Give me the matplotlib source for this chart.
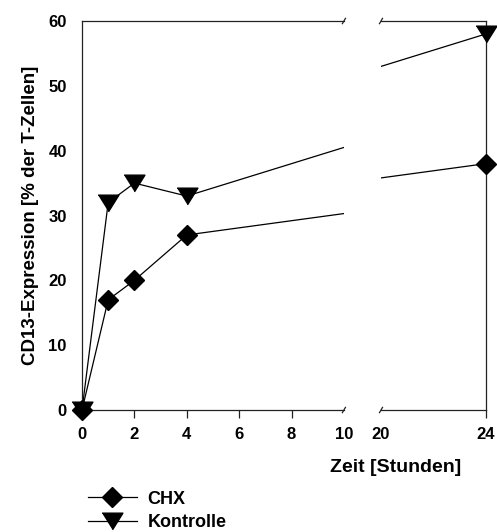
import numpy as np
import matplotlib
matplotlib.use("Agg")
import matplotlib.pyplot as plt
from matplotlib.lines import Line2D

plt.rcParams['font.family'] = ['Liberation Sans', 'DejaVu Sans']
plt.rcParams['font.weight'] = 'bold'

# Messzeitpunkte [h] und CD13-Expression [% der T-Zellen]
zeit = [0, 1, 2, 4, 24]
chx = [0, 17, 20, 27, 38]
kontrolle = [0, 32, 35, 33, 58]

links_ticks = [0, 2, 4, 6, 8, 10]
rechts_ticks = [20, 24]
y_ticks = [0, 10, 20, 30, 40, 50, 60]

# flaches Dreieck mit Spitze nach unten
dreieck = [(-1, 0.8), (1, 0.8), (0, -0.8)]
serien = [(chx, 'D', 10, 'CHX'), (kontrolle, dreieck, 15, 'Kontrolle')]

fig = plt.figure(figsize=(4.97, 5.32), dpi=100)
ax1 = fig.add_axes([0.165, 0.2293, 0.527, 0.7312])
ax2 = fig.add_axes([0.7666, 0.2293, 0.2109, 0.7312])

for ax, (x0, x1) in ((ax1, (0, 10)), (ax2, (20, 24))):
    ax.set_xlim(x0, x1)
    ax.set_ylim(0, 60)
    for ys, m, ms, lab in serien:
        ax.plot(zeit, ys, color='black', lw=0.9, clip_on=True)
        xs = [x for x in zeit if x0 <= x <= x1]
        yy = [y for x, y in zip(zeit, ys) if x0 <= x <= x1]
        ax.plot(xs, yy, ls='none', marker=m, ms=ms, color='black', clip_on=False, zorder=5)
    for s in ax.spines.values():
        s.set_linewidth(0.9)
        s.set_color('#222222')
    ax.tick_params(axis='x', direction='out', length=6, width=0.9, pad=6,
                   labelsize=12, color='#222222')

ax1.spines['right'].set_visible(False)
ax2.spines['left'].set_visible(False)
ax1.set_xticks(links_ticks)
ax1.xaxis.get_major_ticks()[-1].tick1line.set_visible(False)
ax1.set_yticks(y_ticks)
ax1.tick_params(axis='y', length=0, pad=11, labelsize=12)
ax2.set_xticks(rechts_ticks)
ax2.xaxis.get_major_ticks()[0].tick1line.set_visible(False)
ax2.set_yticks([])

# Achsenbruch-Markierungen (kleine Schrägstriche)
dy = 0.0068
kw = dict(color='#222222', lw=0.9, clip_on=False)
for ax, xpos, dx in ((ax1, 1.0, 0.0058), (ax2, 0.0, 0.0145)):
    for yv in (0, 1):
        ax.plot([xpos - dx, xpos + dx], [yv - dy, yv + dy],
                transform=ax.transAxes, **kw)

fig.text(0.797, 0.122, 'Zeit [Stunden]', fontsize=14, fontweight='bold',
         ha='center', va='center')
fig.text(0.062, 0.596, 'CD13-Expression [% der T-Zellen]', fontsize=13.5,
         fontweight='bold', rotation=90, ha='center', va='center')

handles = [Line2D([], [], color='black', lw=0.9, marker=m, ms=ms) for _, m, ms, _ in serien]
labels = [lab for *_, lab in serien]
fig.legend(handles, labels, loc='upper left', bbox_to_anchor=(0.177, 0.078),
           frameon=False, fontsize=13, handlelength=2.7, handletextpad=0.6,
           labelspacing=0.35, borderaxespad=0, borderpad=0)

fig.savefig('out.png', dpi=100)
